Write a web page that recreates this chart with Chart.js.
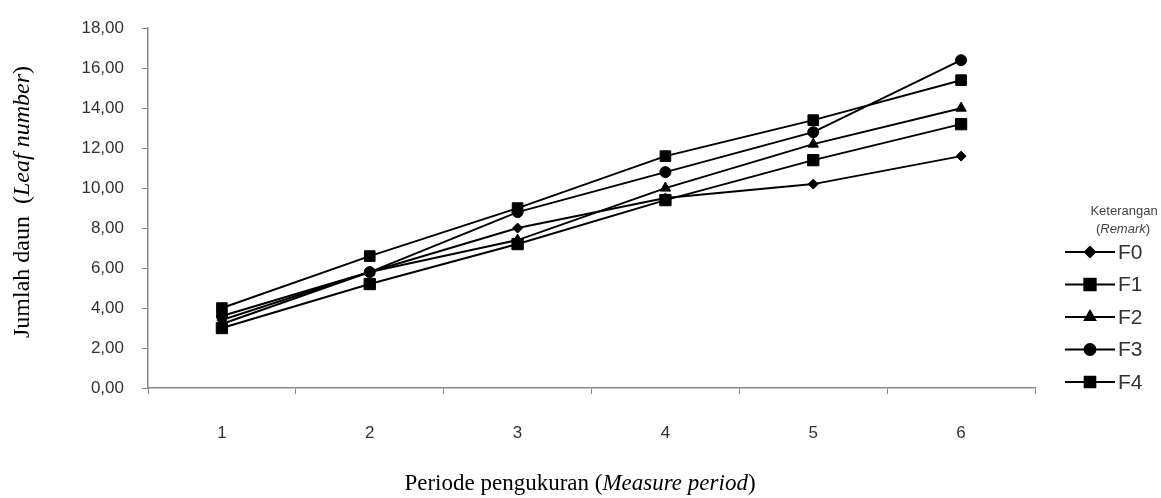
<!DOCTYPE html>
<html>
<head>
<meta charset="utf-8">
<script src="https://cdn.jsdelivr.net/npm/chart.js@4.4.0/dist/chart.umd.min.js"></script>
<style>
  html, body { margin: 0; padding: 0; background: #fff; }
  #wrap { width: 1161px; height: 498px; position: relative; }
</style>
</head>
<body>
<div id="wrap"><canvas id="leafChart"></canvas></div>
<script>
// Data
const periods = ['1', '2', '3', '4', '5', '6'];
const seriesNames = ['F0', 'F1', 'F2', 'F3', 'F4'];
const f0 = [3.4, 5.8, 8.0, 9.5, 10.2, 11.6];
const f1 = [3.0, 5.2, 7.2, 9.4, 11.4, 13.2];
const f2 = [3.2, 5.8, 7.4, 10.0, 12.2, 14.0];
const f3 = [3.6, 5.8, 8.8, 10.8, 12.8, 16.4];
const f4 = [4.0, 6.6, 9.0, 11.6, 13.4, 15.4];

const markers = ['rectRot', 'rect', 'triangle', 'circle', 'rect'];
const markerSizes = [5, 8, 6, 5.5, 7.5];
const values = [f0, f1, f2, f3, f4];

// Draw a line of text made of pieces with different font styles, centred on (0,0)
function drawMixed(ctx, parts) {
    let total = 0;
    parts.forEach(p => { ctx.font = p.font; p.w = ctx.measureText(p.text).width; total += p.w; });
    let x = -total / 2;
    parts.forEach(p => {
        ctx.font = p.font;
        ctx.fillText(p.text, x, 0);
        x += p.w;
    });
}

const titlesPlugin = {
    id: 'titles',
    afterDraw(chart) {
        const ctx = chart.ctx;
        const serif = s => s + 'px "Liberation Serif", "Times New Roman", serif';
        const serifIt = s => 'italic ' + s + 'px "Liberation Serif", "Times New Roman", serif';
        const sans = '13px "Liberation Sans", Arial, sans-serif';
        const sansIt = 'italic 13px "Liberation Sans", Arial, sans-serif';
        ctx.save();
        ctx.fillStyle = '#000';
        ctx.textBaseline = 'middle';
        ctx.textAlign = 'left';

        // y title
        ctx.save();
        ctx.translate(23, 202);
        ctx.rotate(-Math.PI / 2);
        drawMixed(ctx, [
            { text: 'Jumlah daun  (', font: serif(24) },
            { text: 'Leaf number', font: serifIt(24) },
            { text: ')', font: serif(24) }
        ]);
        ctx.restore();

        // x title
        ctx.save();
        ctx.translate(580, 484);
        drawMixed(ctx, [
            { text: 'Periode pengukuran (', font: serif(23) },
            { text: 'Measure period', font: serifIt(23) },
            { text: ')', font: serif(23) }
        ]);
        ctx.restore();

        // legend
        ctx.fillStyle = '#444';
        ctx.save();
        ctx.translate(1124, 211);
        drawMixed(ctx, [{ text: 'Keterangan', font: sans }]);
        ctx.restore();
        ctx.save();
        ctx.translate(1123, 229);
        drawMixed(ctx, [
            { text: '(', font: sans },
            { text: 'Remark', font: sansIt },
            { text: ')', font: sans }
        ]);
        ctx.restore();

        chart.data.datasets.forEach((ds, i) => {
            const y = 252 + i * 32.5;
            ctx.strokeStyle = '#000';
            ctx.lineWidth = 2;
            ctx.beginPath();
            ctx.moveTo(1065, y);
            ctx.lineTo(1115, y);
            ctx.stroke();
            ctx.fillStyle = '#000';
            Chart.helpers.drawPoint(ctx, {
                pointStyle: ds.pointStyle,
                radius: ds.pointRadius,
                rotation: 0,
                borderWidth: 1
            }, 1090, y);
            ctx.fillStyle = '#333';
            ctx.font = '21px "Liberation Sans", Arial, sans-serif';
            ctx.textAlign = 'left';
            ctx.fillText(ds.label, 1118, y + 1);
        });
        ctx.restore();
    }
};

new Chart(document.getElementById('leafChart'), {
    type: 'line',
    data: {
        labels: periods,
        datasets: seriesNames.map((name, i) => ({
            label: name,
            data: values[i],
            borderColor: '#000',
            backgroundColor: '#000',
            borderWidth: 2,
            pointStyle: markers[i],
            pointRadius: markerSizes[i],
            pointBorderWidth: 1,
            tension: 0,
            fill: false
        }))
    },
    options: {
        responsive: true,
        maintainAspectRatio: false,
        animation: false,
        devicePixelRatio: 1,
        layout: { padding: { left: 0, top: 23, right: 126, bottom: 0 } },
        plugins: {
            legend: { display: false },
            tooltip: { enabled: false }
        },
        scales: {
            x: {
                offset: true,
                afterFit: s => { s.height = 110; },
                grid: { offset: true, drawOnChartArea: false, drawTicks: true, tickLength: 6, color: '#888' },
                border: { color: '#888', width: 1.5 },
                ticks: {
                    padding: 29,
                    color: '#333',
                    font: { family: '"Liberation Sans", Arial, sans-serif', size: 17 }
                }
            },
            y: {
                min: 0,
                max: 18,
                afterFit: s => { s.width = 148; },
                grid: { drawOnChartArea: false, drawTicks: true, tickLength: 6, color: '#888' },
                border: { color: '#888', width: 1.5 },
                ticks: {
                    stepSize: 2,
                    padding: 18,
                    color: '#333',
                    font: { family: '"Liberation Sans", Arial, sans-serif', size: 17 },
                    callback: v => v.toFixed(2).replace('.', ',')
                }
            }
        }
    },
    plugins: [titlesPlugin]
});
</script>
</body>
</html>
